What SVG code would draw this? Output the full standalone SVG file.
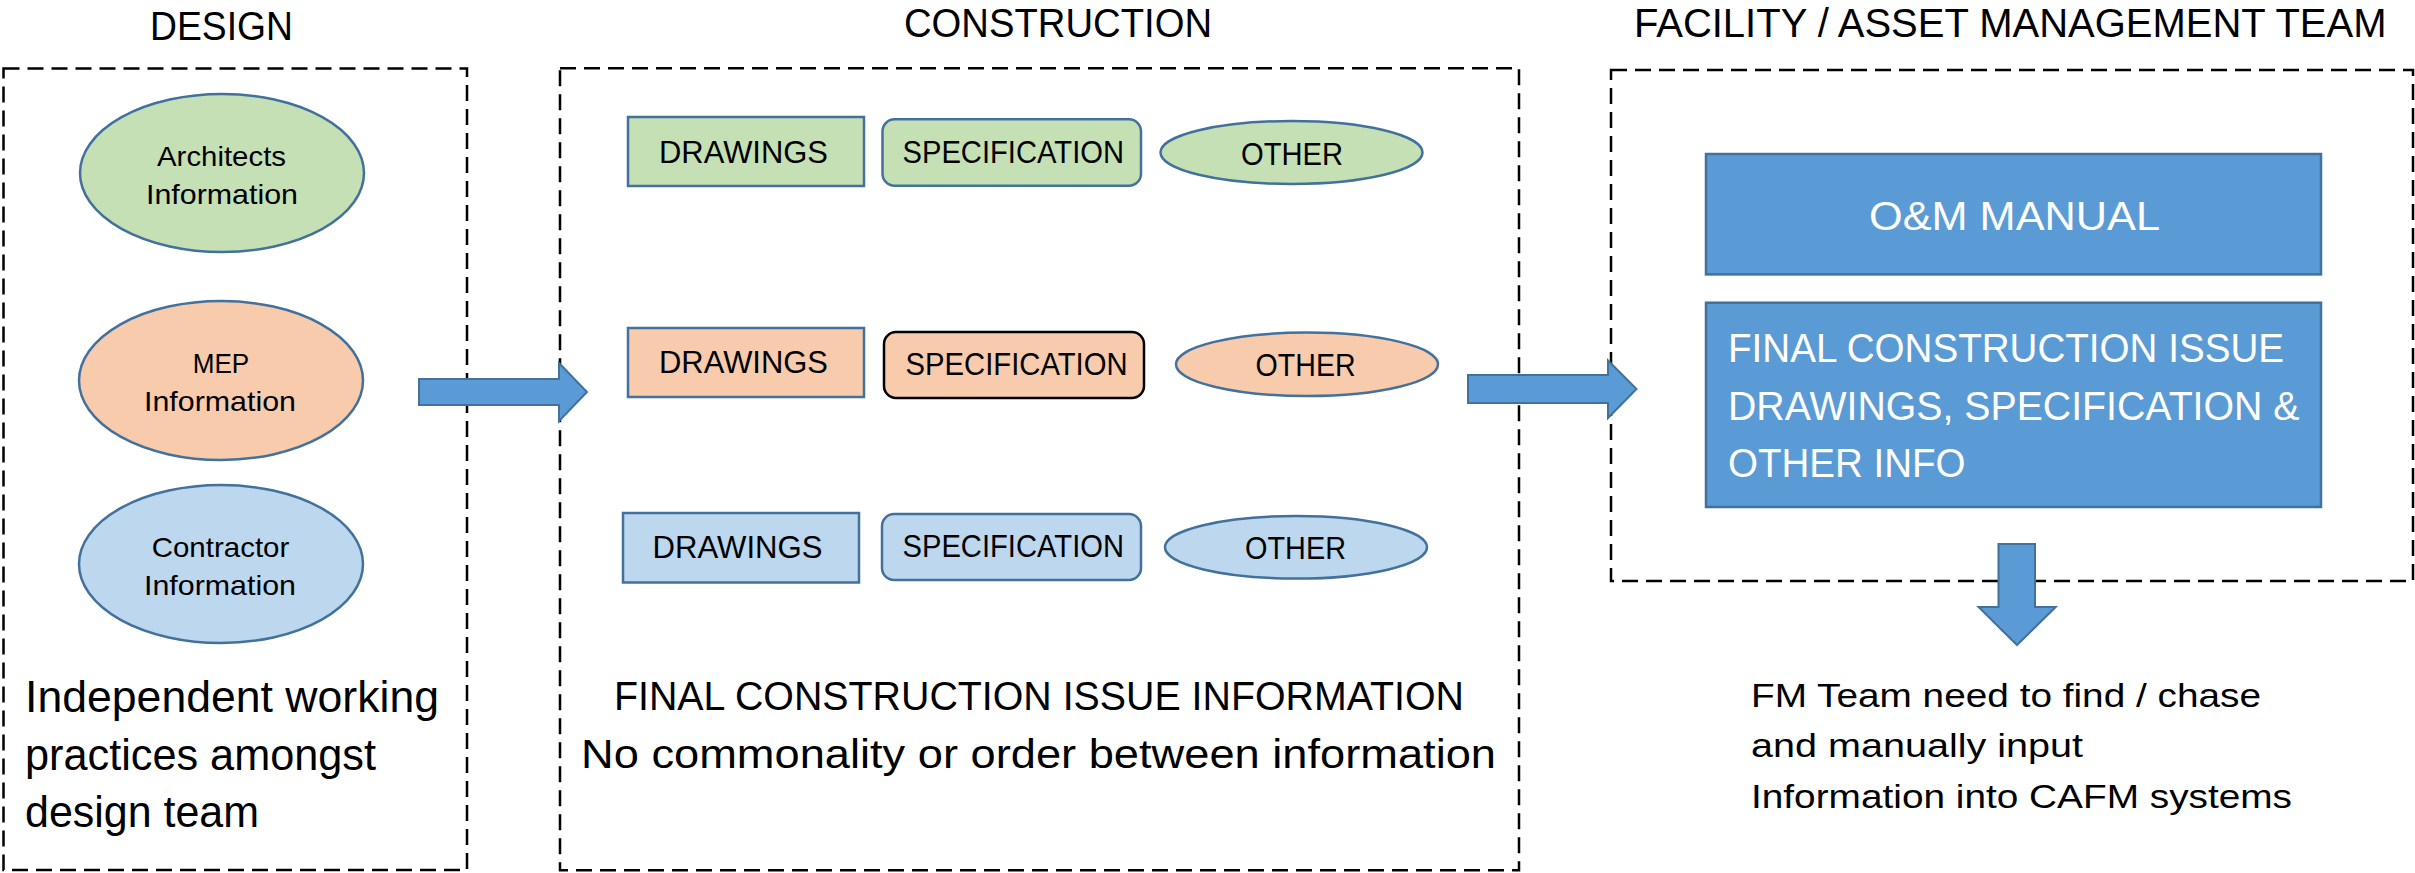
<svg xmlns="http://www.w3.org/2000/svg" width="2415" height="873" viewBox="0 0 2415 873">
<style>
text{font-family:"Liberation Sans",Arial,sans-serif;fill:#000}
.frame{fill:none;stroke:#000;stroke-width:2.5;stroke-dasharray:16 8}
.title{font-size:41px}
.g{fill:#c5e0b4}.o{fill:#f8cbad}.b{fill:#bdd7ee}
.sh{stroke:#41719c;stroke-width:2.5}
.lbl{font-size:32px}
.ell{font-size:28px}
.big{font-size:44px}
.mid{font-size:40px}
.fm{font-size:33px}
.wt{fill:#fff}
.box{fill:#5b9bd5;stroke:#41719c;stroke-width:2.5}
.arr{fill:#5b9bd5;stroke:#41719c;stroke-width:2}
</style>
<g id="design">
<text class="title" x="150" y="40" textLength="143" lengthAdjust="spacingAndGlyphs">DESIGN</text>
<rect class="frame" x="3.5" y="68.5" width="463.5" height="801.5"/>
</g>
<g id="architects">
<ellipse class="g sh" cx="222" cy="173" rx="142" ry="79" stroke-width="2"/>
<text class="ell" x="157" y="166" textLength="129" lengthAdjust="spacingAndGlyphs">Architects</text>
<text class="ell" x="146" y="204" textLength="152" lengthAdjust="spacingAndGlyphs">Information</text>
</g>
<g id="mep">
<ellipse class="o sh" cx="221" cy="380.5" rx="142" ry="79.5"/>
<text class="ell" x="192.7" y="373" textLength="56.6" lengthAdjust="spacingAndGlyphs">MEP</text>
<text class="ell" x="144" y="411" textLength="152" lengthAdjust="spacingAndGlyphs">Information</text>
</g>
<g id="contractor">
<ellipse class="b sh" cx="221" cy="564" rx="142" ry="79"/>
<text class="ell" x="151.7" y="557" textLength="137.6" lengthAdjust="spacingAndGlyphs">Contractor</text>
<text class="ell" x="144" y="595" textLength="152" lengthAdjust="spacingAndGlyphs">Information</text>
</g>
<g id="design-note">
<text class="big" x="25" y="711.6" textLength="414" lengthAdjust="spacingAndGlyphs">Independent working</text>
<text class="big" x="25" y="769.5" textLength="351" lengthAdjust="spacingAndGlyphs">practices amongst</text>
<text class="big" x="25" y="827" textLength="234" lengthAdjust="spacingAndGlyphs">design team</text>
</g>
<g id="construction">
<text class="title" x="904" y="37.3" textLength="308" lengthAdjust="spacingAndGlyphs">CONSTRUCTION</text>
<rect class="frame" x="560" y="68.3" width="959" height="802"/>
</g>
<g id="drawings-1"><rect class="g sh" x="628" y="117" width="236" height="69"/><text class="lbl" x="659" y="162.7" textLength="169" lengthAdjust="spacingAndGlyphs">DRAWINGS</text></g>
<g id="spec-1"><rect class="g sh" x="882.5" y="119.3" width="258.5" height="66.4" rx="12"/><text class="lbl" x="902.5" y="162.7" textLength="221.5" lengthAdjust="spacingAndGlyphs">SPECIFICATION</text></g>
<g id="other-1"><ellipse class="g sh" cx="1291.5" cy="152.5" rx="131" ry="31.5"/><text class="lbl" x="1241" y="164.7" textLength="102" lengthAdjust="spacingAndGlyphs">OTHER</text></g>
<g id="drawings-2"><rect class="o sh" x="628" y="328" width="236" height="69"/><text class="lbl" x="659" y="373.3" textLength="169" lengthAdjust="spacingAndGlyphs">DRAWINGS</text></g>
<g id="spec-2"><rect class="o" stroke="#000" stroke-width="2.5" x="884" y="332" width="260" height="66" rx="12"/><text class="lbl" x="905.6" y="375" textLength="222" lengthAdjust="spacingAndGlyphs">SPECIFICATION</text></g>
<g id="other-2"><ellipse class="o sh" cx="1307" cy="364.3" rx="131" ry="31.7"/><text class="lbl" x="1255.6" y="376" textLength="100" lengthAdjust="spacingAndGlyphs">OTHER</text></g>
<g id="drawings-3"><rect class="b sh" x="623" y="513" width="236" height="69.5"/><text class="lbl" x="652.5" y="558.3" textLength="170" lengthAdjust="spacingAndGlyphs">DRAWINGS</text></g>
<g id="spec-3"><rect class="b sh" x="882" y="514" width="259" height="66" rx="12"/><text class="lbl" x="902.5" y="556.7" textLength="221.5" lengthAdjust="spacingAndGlyphs">SPECIFICATION</text></g>
<g id="other-3"><ellipse class="b sh" cx="1296" cy="547.3" rx="131" ry="31.3"/><text class="lbl" x="1245" y="559.3" textLength="101" lengthAdjust="spacingAndGlyphs">OTHER</text></g>
<g id="construction-note">
<text class="mid" x="614" y="710" textLength="850" lengthAdjust="spacingAndGlyphs">FINAL CONSTRUCTION ISSUE INFORMATION</text>
<text class="mid" x="581" y="767.7" textLength="915" lengthAdjust="spacingAndGlyphs">No commonality or order between information</text>
</g>
<g id="fm-team">
<text class="title" x="1634" y="37.1" textLength="752.5" lengthAdjust="spacingAndGlyphs">FACILITY / ASSET MANAGEMENT TEAM</text>
<rect class="frame" x="1611" y="70" width="802" height="511"/>
</g>
<g id="om-manual"><rect class="box" x="1706" y="154" width="615" height="120.4"/><text class="mid wt" x="1869" y="229.6" textLength="291" lengthAdjust="spacingAndGlyphs">O&amp;M MANUAL</text></g>
<g id="final-issue"><rect class="box" x="1706" y="302.7" width="615" height="204.3"/>
<text class="mid wt" x="1728" y="361.7" textLength="556" lengthAdjust="spacingAndGlyphs">FINAL CONSTRUCTION ISSUE</text>
<text class="mid wt" x="1728" y="419.8" textLength="571.5" lengthAdjust="spacingAndGlyphs">DRAWINGS, SPECIFICATION &amp;</text>
<text class="mid wt" x="1728" y="476.8" textLength="237.5" lengthAdjust="spacingAndGlyphs">OTHER INFO</text>
</g>
<g id="fm-note">
<text class="fm" x="1751" y="706.7" textLength="510" lengthAdjust="spacingAndGlyphs">FM Team need to find / chase</text>
<text class="fm" x="1751" y="757.3" textLength="332" lengthAdjust="spacingAndGlyphs">and manually input</text>
<text class="fm" x="1751" y="808.3" textLength="541" lengthAdjust="spacingAndGlyphs">Information into CAFM systems</text>
</g>
<g id="connectors">
<polygon class="arr" points="419,379 559,379 559,363 587,392 559,421 559,405 419,405"/>
<polygon class="arr" points="1468,375 1608,375 1608,360.5 1636.5,389 1608,418 1608,403 1468,403"/>
<polygon class="arr" points="1998.5,544 2035,544 2035,607 2055.7,607 2017,645 1978.6,607 1998.5,607"/>
</g>
</svg>
